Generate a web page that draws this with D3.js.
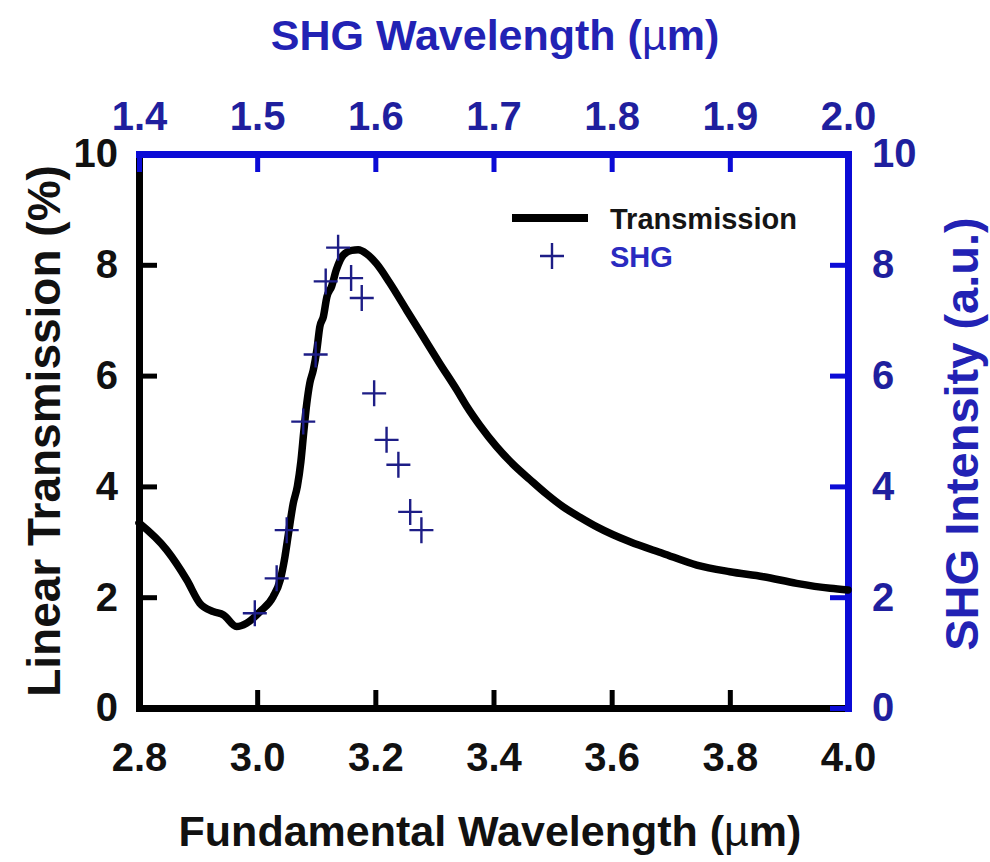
<!DOCTYPE html>
<html>
<head>
<meta charset="utf-8">
<script src="https://cdn.jsdelivr.net/npm/d3@7"></script>
<style>
  html, body { margin: 0; padding: 0; background: #ffffff; }
  svg { display: block; }
  text { font-family: "Liberation Sans", Arial, Helvetica, sans-serif; font-weight: bold; }
</style>
</head>
<body>
<svg id="chart" width="990" height="862"></svg>
<script>
// Linear transmission spectrum (fundamental wavelength in µm, transmission in %)
const fundamentalWavelength = [
  2.800, 2.847, 2.881, 2.903, 2.926, 2.943, 2.965, 2.982, 3.005, 3.027,
  3.039, 3.047, 3.053, 3.061, 3.068, 3.074, 3.079, 3.084, 3.089, 3.095,
  3.101, 3.106, 3.112, 3.118, 3.126, 3.134, 3.146, 3.160, 3.171, 3.185,
  3.202, 3.224, 3.253, 3.281, 3.309, 3.338, 3.355, 3.377, 3.405, 3.433,
  3.462, 3.490, 3.518, 3.547, 3.575, 3.631, 3.687, 3.744, 3.800, 3.857,
  3.913, 3.970, 4.000
];
const transmission = [
  3.34, 2.85, 2.31, 1.89, 1.74, 1.68, 1.47, 1.53, 1.74, 2.01,
  2.31, 2.73, 3.15, 3.69, 4.00, 4.45, 5.00, 5.50, 5.86, 6.10,
  6.46, 6.88, 7.06, 7.42, 7.61, 7.91, 8.18, 8.26, 8.27, 8.20,
  8.02, 7.68, 7.18, 6.70, 6.22, 5.74, 5.44, 5.10, 4.72, 4.40,
  4.12, 3.86, 3.63, 3.44, 3.27, 3.00, 2.79, 2.58, 2.46, 2.37,
  2.25, 2.16, 2.13
];

// Second-harmonic signal (fundamental wavelength in µm, intensity in a.u.)
const shgFundamental = [
  2.996, 3.033, 3.050, 3.078, 3.099, 3.116, 3.137, 3.159, 3.177, 3.198,
  3.219, 3.239, 3.259, 3.278
];
const shgIntensity = [
  1.71, 2.34, 3.21, 5.17, 6.38, 7.70, 8.31, 7.76, 7.40, 5.68,
  4.84, 4.39, 3.54, 3.21
];

// Axis ticks
const bottomTicks = [2.8, 3.0, 3.2, 3.4, 3.6, 3.8, 4.0];
const topTicks = [1.4, 1.5, 1.6, 1.7, 1.8, 1.9, 2.0];
const leftTicks = [0, 2, 4, 6, 8, 10];
const rightTicks = [0, 2, 4, 6, 8, 10];

const leftTitle = "Linear Transmission (%)";
const rightTitle = "SHG Intensity (a.u.)";
const legendLabels = ["Transmission", "SHG"];

const frame = { left: 139, right: 848, top: 154, bottom: 708 };
const blueAxis = "#0b0bd6";
const blueText = "#1f1f9e";
const blueTitle = "#2222b4";
const markerColor = "#1d1d86";

const svg = d3.select("#chart");

const x = d3.scaleLinear().domain([2.8, 4.0]).range([frame.left, frame.right]);
const xTop = d3.scaleLinear().domain([1.4, 2.0]).range([frame.left, frame.right]);
const yLeft = d3.scaleLinear().domain([0, 10]).range([frame.bottom, frame.top]);
const yRight = d3.scaleLinear().domain([0, 10]).range([frame.bottom, frame.top]);

const tickLen = 18;
const tickFont = 40;

function styleAxis(g, color, textColor) {
  g.select(".domain")
    .attr("stroke", color)
    .attr("stroke-width", 7)
    .attr("stroke-linecap", "square");
  g.selectAll(".tick line")
    .attr("stroke", color)
    .attr("stroke-width", 5);
  g.selectAll(".tick text")
    .attr("fill", textColor)
    .style("font-size", tickFont + "px")
    .style("font-weight", "bold")
    .attr("font-family", null);
}

// Black axes: left and bottom
const gBottom = svg.append("g")
  .attr("transform", `translate(0,${frame.bottom})`)
  .call(d3.axisBottom(x).tickValues(bottomTicks).tickFormat(d3.format(".1f"))
    .tickSizeInner(-tickLen).tickSizeOuter(0).tickPadding(35));
styleAxis(gBottom, "#000000", "#111111");

const gLeft = svg.append("g")
  .attr("transform", `translate(${frame.left},0)`)
  .call(d3.axisLeft(yLeft).tickValues(leftTicks).tickFormat(d3.format("d"))
    .tickSizeInner(-tickLen).tickSizeOuter(0).tickPadding(21));
styleAxis(gLeft, "#000000", "#111111");

// Blue axes: top and right
const gTop = svg.append("g")
  .attr("transform", `translate(0,${frame.top})`)
  .call(d3.axisTop(xTop).tickValues(topTicks).tickFormat(d3.format(".1f"))
    .tickSizeInner(-tickLen).tickSizeOuter(0).tickPadding(24));
styleAxis(gTop, blueAxis, blueText);

const gRight = svg.append("g")
  .attr("transform", `translate(${frame.right},0)`)
  .call(d3.axisRight(yRight).tickValues(rightTicks).tickFormat(d3.format("d"))
    .tickSizeInner(-tickLen).tickSizeOuter(0).tickPadding(24));
styleAxis(gRight, blueAxis, blueText);

// Transmission curve
const transData = fundamentalWavelength.map((w, i) => ({ w, t: transmission[i] }));
const line = d3.line()
  .x(d => x(d.w))
  .y(d => yLeft(d.t))
  .curve(d3.curveMonotoneX);

svg.append("path")
  .datum(transData)
  .attr("d", line)
  .attr("fill", "none")
  .attr("stroke", "#000000")
  .attr("stroke-width", 7.5)
  .attr("stroke-linejoin", "round")
  .attr("stroke-linecap", "round");

// SHG points as plus markers
const plus = "M-12,0H12M0,-13V13";
const shgData = shgFundamental.map((w, i) => ({ w, s: shgIntensity[i] }));
svg.append("g")
  .selectAll("path")
  .data(shgData)
  .join("path")
  .attr("transform", d => `translate(${x(d.w)},${yRight(d.s)})`)
  .attr("d", plus)
  .attr("fill", "none")
  .attr("stroke", markerColor)
  .attr("stroke-width", 2.4);

// Legend
const legend = svg.append("g");
legend.append("line")
  .attr("x1", 512).attr("x2", 588)
  .attr("y1", 218).attr("y2", 218)
  .attr("stroke", "#000000")
  .attr("stroke-width", 8);
legend.append("text")
  .attr("x", 610).attr("y", 229)
  .attr("fill", "#151515")
  .style("font-size", "29px")
  .text(legendLabels[0]);
legend.append("path")
  .attr("transform", "translate(552,256)")
  .attr("d", plus)
  .attr("fill", "none")
  .attr("stroke", markerColor)
  .attr("stroke-width", 2.4);
legend.append("text")
  .attr("x", 610).attr("y", 267)
  .attr("fill", "#2a2ac0")
  .style("font-size", "29px")
  .text(legendLabels[1]);

// Axis titles; the micro sign is set in regular weight
function wavelengthTitle(sel, prefix) {
  sel.append("tspan").text(prefix + " (");
  sel.append("tspan").style("font-weight", "normal").text("\u00B5");
  sel.append("tspan").text("m)");
}

svg.append("text")
  .attr("x", 490).attr("y", 846)
  .attr("text-anchor", "middle")
  .attr("fill", "#111111")
  .style("font-size", "43px")
  .call(wavelengthTitle, "Fundamental Wavelength");

svg.append("text")
  .attr("x", 495).attr("y", 50)
  .attr("text-anchor", "middle")
  .attr("fill", blueTitle)
  .style("font-size", "43px")
  .call(wavelengthTitle, "SHG Wavelength");

svg.append("text")
  .attr("transform", "translate(60,431) rotate(-90)")
  .attr("text-anchor", "middle")
  .attr("fill", "#111111")
  .style("font-size", "46px")
  .text(leftTitle);

svg.append("text")
  .attr("transform", "translate(978,434) rotate(-90)")
  .attr("text-anchor", "middle")
  .attr("fill", blueTitle)
  .style("font-size", "47px")
  .text(rightTitle);
</script>
</body>
</html>
